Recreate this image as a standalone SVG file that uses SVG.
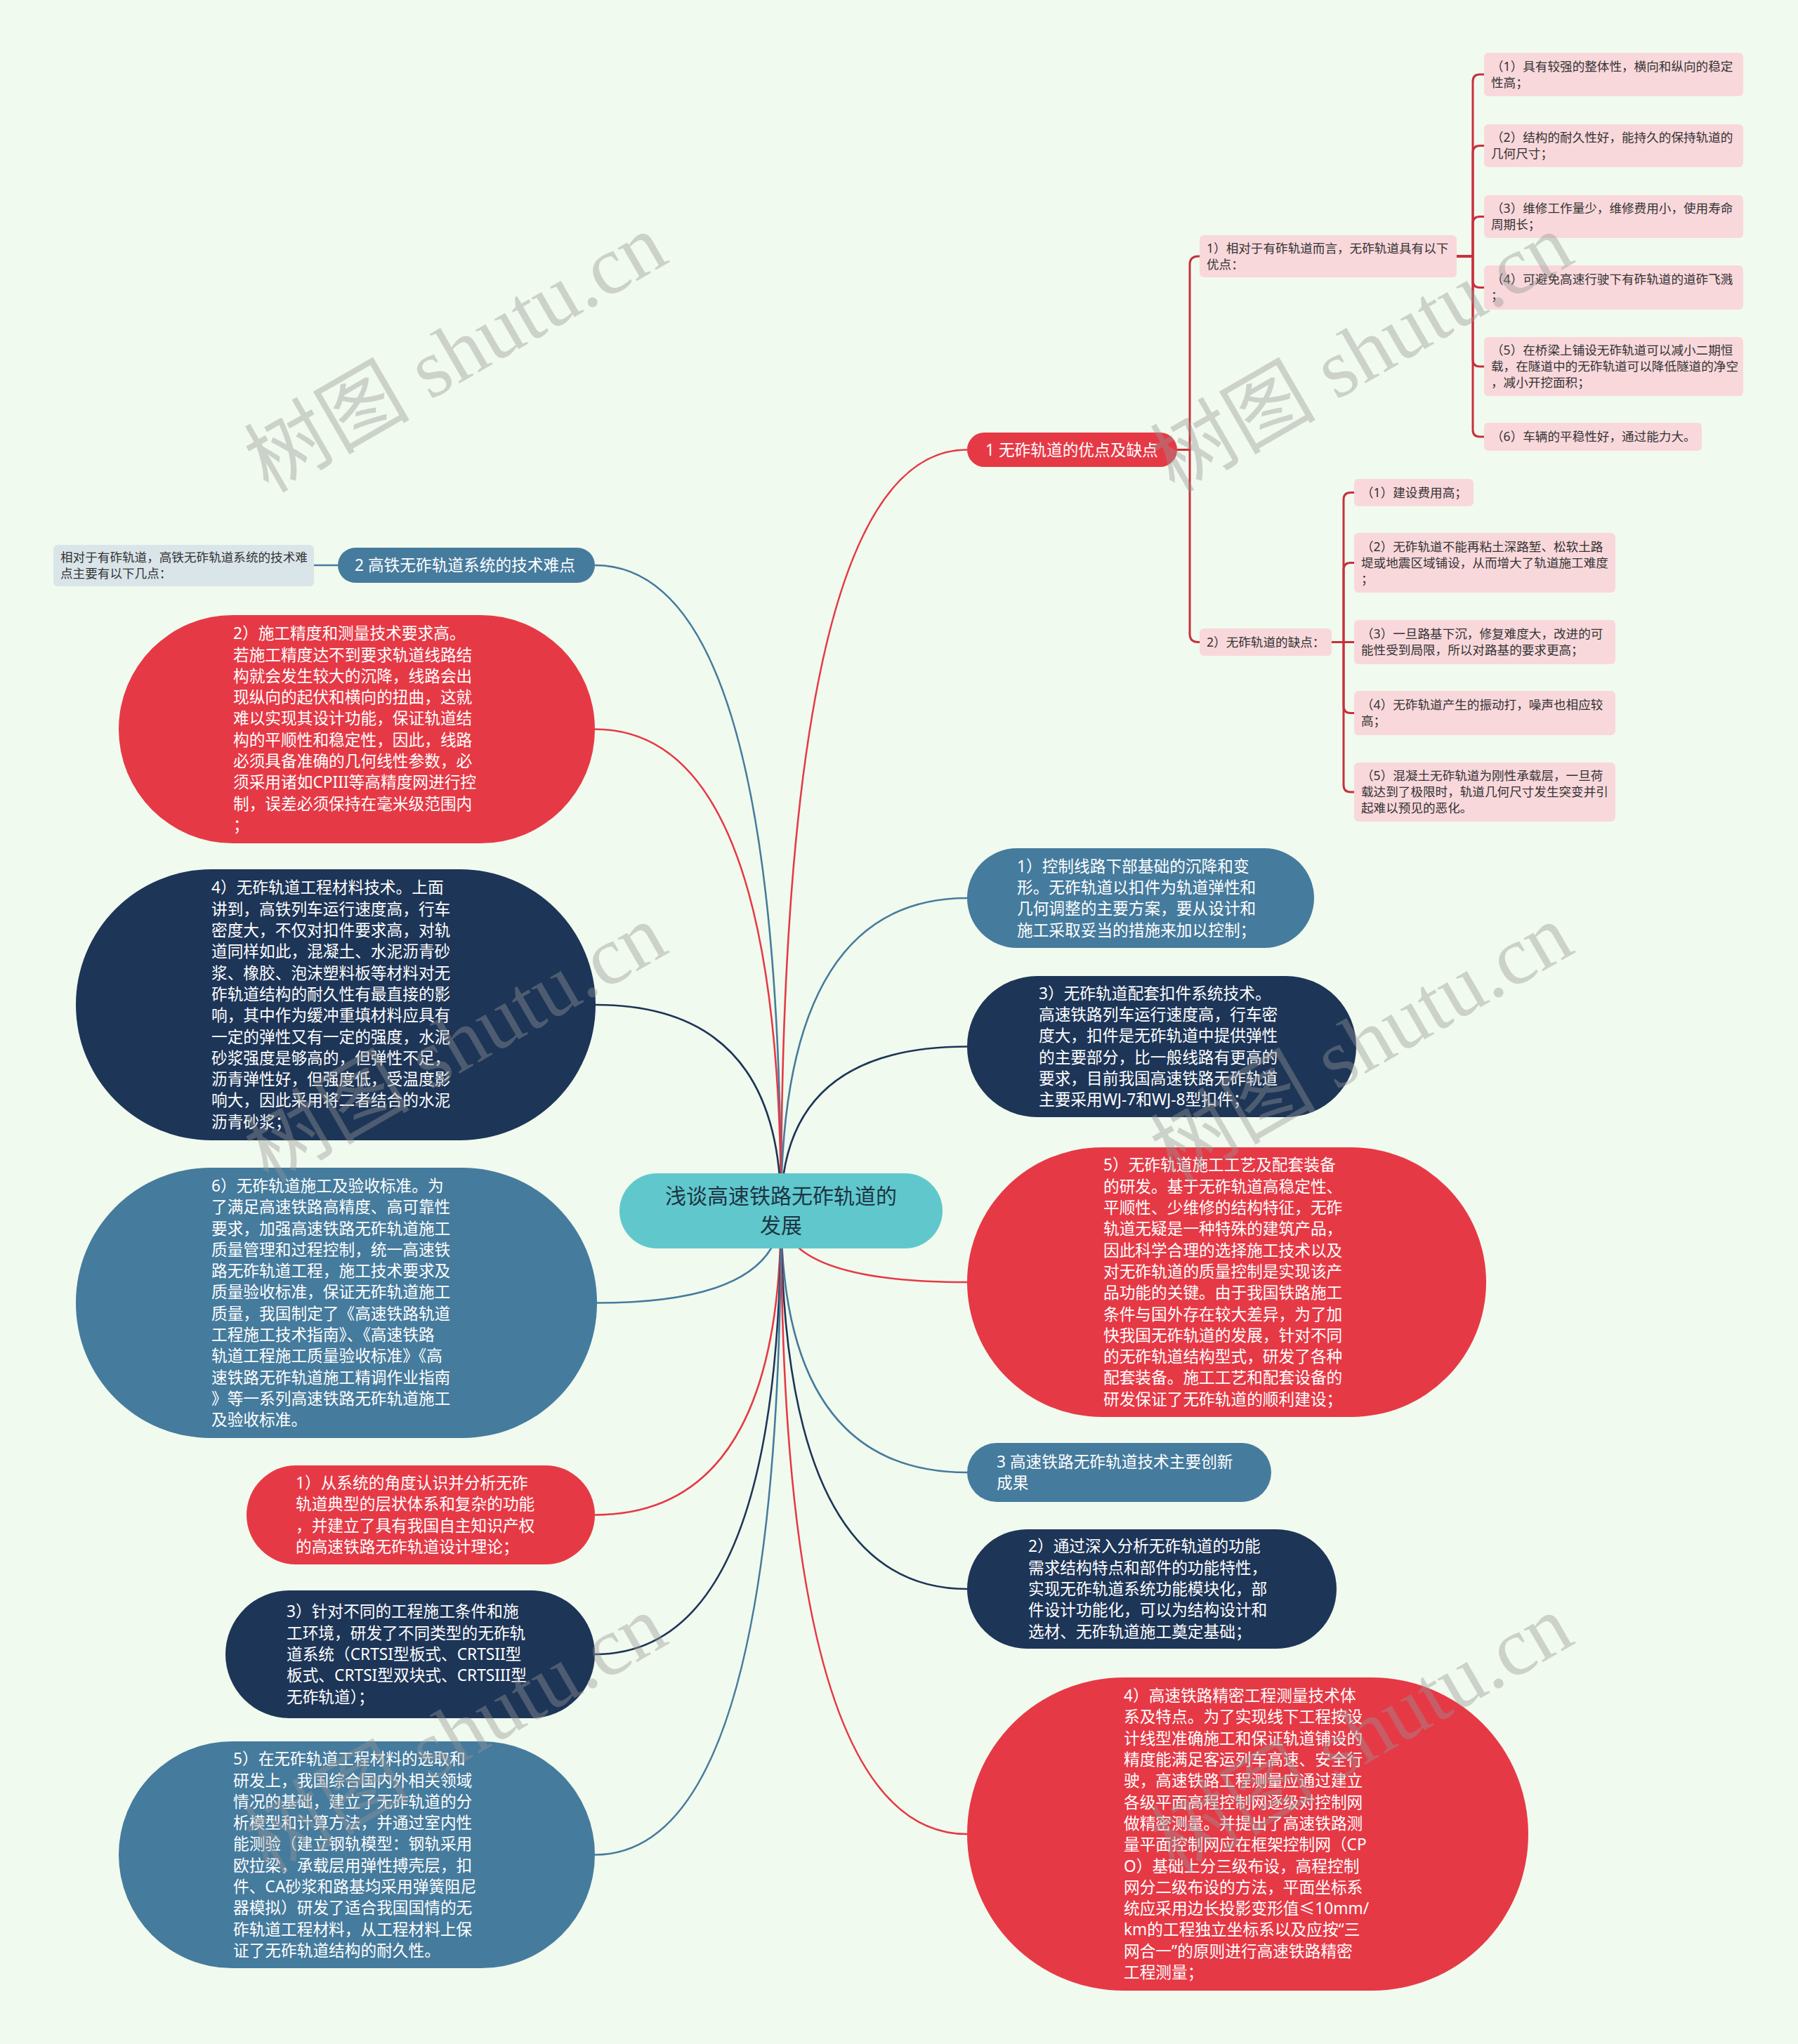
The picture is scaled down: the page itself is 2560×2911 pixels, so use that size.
<svg xmlns="http://www.w3.org/2000/svg" width="2560" height="2911" viewBox="0 0 2560 2911">
<style>
.t{font-family:"Noto Sans","Noto Sans CJK SC",sans-serif}
.big{font-size:22.7px;fill:#ffffff}
.sm{font-size:17.6px;fill:#333333}
.ctr{font-size:30px;fill:#1e3444}
.red{fill:#e63946}.blue{fill:#457b9d}.navy{fill:#1d3557}.pink{fill:#f9d8dc}.grey{fill:#dae5ea}
.c{fill:none;stroke-width:2.6}
.cr{stroke:#e63946}.cb{stroke:#457b9d}.cn{stroke:#1d3557}.cp{fill:none;stroke:#c8303c;stroke-width:3}
.wm{font-family:"Liberation Serif","Noto Sans CJK SC",serif;font-size:118px;fill:#969696;opacity:0.4}
</style>
<rect x="0" y="0" width="2560" height="2911" fill="#f1faee"/>

<g id="connectors">
  <path class="c cr" d="M1112 1724 Q1112 640.5 1377 640.5"/>
  <path class="c cb" d="M1112 1724 Q1112 1279 1377 1279"/>
  <path class="c cn" d="M1112 1724 Q1112 1490.5 1377 1490.5"/>
  <path class="c cr" d="M1112 1724 Q1112 1826 1377 1826"/>
  <path class="c cb" d="M1112 1724 Q1112 2097 1377 2097"/>
  <path class="c cn" d="M1112 1724 Q1112 2263 1377 2263"/>
  <path class="c cr" d="M1112 1724 Q1112 2612 1377 2612"/>
  <path class="c cb" d="M1112 1724 Q1112 805 847 805"/>
  <path class="c cr" d="M1112 1724 Q1112 1038.5 847 1038.5"/>
  <path class="c cn" d="M1112 1724 Q1112 1431 848 1431"/>
  <path class="c cb" d="M1112 1724 Q1112 1855.5 850 1855.5"/>
  <path class="c cr" d="M1112 1724 Q1112 2157.5 847 2157.5"/>
  <path class="c cn" d="M1112 1724 Q1112 2356 847 2356"/>
  <path class="c cb" d="M1112 1724 Q1112 2641.5 847 2641.5"/>
  <path class="c cb" d="M481 805 H447"/>
  <path class="cp" d="M1676 640.5 H1694 V377 Q1694 365 1706 365 H1708"/>
  <path class="cp" d="M1676 640.5 H1694 V902.5 Q1694 914.5 1706 914.5 H1708"/>
  <path class="cp" d="M2074 365 H2097 V116 Q2097 106 2107 106 H2113"/>
  <path class="cp" d="M2074 365 H2097 V217.5 Q2097 207.5 2107 207.5 H2113"/>
  <path class="cp" d="M2074 365 H2097 V318.5 Q2097 308.5 2107 308.5 H2113"/>
  <path class="cp" d="M2074 365 H2097 V399.5 Q2097 409.5 2107 409.5 H2113"/>
  <path class="cp" d="M2074 365 H2097 V512 Q2097 522 2107 522 H2113"/>
  <path class="cp" d="M2074 365 H2097 V612 Q2097 622 2107 622 H2113"/>
  <path class="cp" d="M1896 914.5 H1913 V711.5 Q1913 701.5 1923 701.5 H1928"/>
  <path class="cp" d="M1896 914.5 H1913 V811.5 Q1913 801.5 1923 801.5 H1928"/>
  <path class="cp" d="M1896 914.5 H1928"/>
  <path class="cp" d="M1896 914.5 H1913 V1005.5 Q1913 1015.5 1923 1015.5 H1928"/>
  <path class="cp" d="M1896 914.5 H1913 V1118 Q1913 1128 1923 1128 H1928"/>
</g>

<g id="center">
  <rect x="882" y="1671" width="460" height="107" rx="53.5" fill="#60c8cc"/>
  <text class="t ctr" text-anchor="middle"><tspan x="1112" y="1714">浅谈高速铁路无砟轨道的</tspan><tspan x="1112" y="1756">发展</tspan></text>
</g>

<g id="n-r1">
  <rect class="red" x="1377" y="616" width="299" height="49" rx="24.5"/>
  <text class="t big" x="1403" y="648.5">1 无砟轨道的优点及缺点</text>
</g>
<g id="n-r1-adv">
  <rect class="pink" x="1708" y="335" width="366" height="60" rx="6"/>
  <text class="t sm" y="359.8"><tspan x="1718">1）相对于有砟轨道而言，无砟轨道具有以下</tspan><tspan x="1718" dy="23">优点：</tspan></text>
</g>
<g id="n-adv1">
  <rect class="pink" x="2113" y="75" width="369" height="62" rx="6"/>
  <text class="t sm" y="100.8"><tspan x="2123">（1）具有较强的整体性，横向和纵向的稳定</tspan><tspan x="2123" dy="23">性高；</tspan></text>
</g>
<g id="n-adv2">
  <rect class="pink" x="2113" y="177" width="369" height="61" rx="6"/>
  <text class="t sm" y="202.3"><tspan x="2123">（2）结构的耐久性好，能持久的保持轨道的</tspan><tspan x="2123" dy="23">几何尺寸；</tspan></text>
</g>
<g id="n-adv3">
  <rect class="pink" x="2113" y="278" width="369" height="61" rx="6"/>
  <text class="t sm" y="303.3"><tspan x="2123">（3）维修工作量少，维修费用小，使用寿命</tspan><tspan x="2123" dy="23">周期长；</tspan></text>
</g>
<g id="n-adv4">
  <rect class="pink" x="2113" y="378" width="369" height="63" rx="6"/>
  <text class="t sm" y="404.3"><tspan x="2123">（4）可避免高速行驶下有砟轨道的道砟飞溅</tspan><tspan x="2123" dy="23">；</tspan></text>
</g>
<g id="n-adv5">
  <rect class="pink" x="2113" y="480" width="369" height="84" rx="6"/>
  <text class="t sm" y="505.3"><tspan x="2123">（5）在桥梁上铺设无砟轨道可以减小二期恒</tspan><tspan x="2123" dy="23" textLength="352" lengthAdjust="spacingAndGlyphs">载，在隧道中的无砟轨道可以降低隧道的净空</tspan><tspan x="2123" dy="23">，减小开挖面积；</tspan></text>
</g>
<g id="n-adv6">
  <rect class="pink" x="2113" y="602" width="310" height="40" rx="6"/>
  <text class="t sm" x="2123" y="628.3">（6）车辆的平稳性好，通过能力大。</text>
</g>
<g id="n-r1-dis">
  <rect class="pink" x="1708" y="895" width="188" height="39" rx="6"/>
  <text class="t sm" x="1718" y="920.8">2）无砟轨道的缺点：</text>
</g>
<g id="n-dis1">
  <rect class="pink" x="1928" y="682" width="170" height="39" rx="6"/>
  <text class="t sm" x="1938" y="707.8">（1）建设费用高；</text>
</g>
<g id="n-dis2">
  <rect class="pink" x="1928" y="759" width="372" height="85" rx="6"/>
  <text class="t sm" y="784.8"><tspan x="1938">（2）无砟轨道不能再粘土深路堑、松软土路</tspan><tspan x="1938" dy="23">堤或地震区域铺设，从而增大了轨道施工难度</tspan><tspan x="1938" dy="23">；</tspan></text>
</g>
<g id="n-dis3">
  <rect class="pink" x="1928" y="883" width="372" height="63" rx="6"/>
  <text class="t sm" y="909.3"><tspan x="1938">（3）一旦路基下沉，修复难度大，改进的可</tspan><tspan x="1938" dy="23">能性受到局限，所以对路基的要求更高；</tspan></text>
</g>
<g id="n-dis4">
  <rect class="pink" x="1928" y="984" width="372" height="63" rx="6"/>
  <text class="t sm" y="1010.3"><tspan x="1938">（4）无砟轨道产生的振动打，噪声也相应较</tspan><tspan x="1938" dy="23">高；</tspan></text>
</g>
<g id="n-dis5">
  <rect class="pink" x="1928" y="1086" width="372" height="84" rx="6"/>
  <text class="t sm" y="1111.3"><tspan x="1938">（5）混凝土无砟轨道为刚性承载层，一旦荷</tspan><tspan x="1938" dy="23">载达到了极限时，轨道几何尺寸发生突变并引</tspan><tspan x="1938" dy="23">起难以预见的恶化。</tspan></text>
</g>

<g id="n-ctl">
  <rect class="blue" x="1377" y="1208" width="494" height="142" rx="71"/>
  <text class="t big" y="1241.6"><tspan x="1448">1）控制线路下部基础的沉降和变</tspan><tspan x="1448" dy="30.3">形。无砟轨道以扣件为轨道弹性和</tspan><tspan x="1448" dy="30.3">几何调整的主要方案，要从设计和</tspan><tspan x="1448" dy="30.3">施工采取妥当的措施来加以控制；</tspan></text>
</g>
<g id="n-fast">
  <rect class="navy" x="1377" y="1390" width="554" height="201" rx="100"/>
  <text class="t big" y="1422.8"><tspan x="1479">3）无砟轨道配套扣件系统技术。</tspan><tspan x="1479" dy="30.3">高速铁路列车运行速度高，行车密</tspan><tspan x="1479" dy="30.3">度大，扣件是无砟轨道中提供弹性</tspan><tspan x="1479" dy="30.3">的主要部分，比一般线路有更高的</tspan><tspan x="1479" dy="30.3">要求，目前我国高速铁路无砟轨道</tspan><tspan x="1479" dy="30.3">主要采用WJ-7和WJ-8型扣件；</tspan></text>
</g>
<g id="n-craft">
  <rect class="red" x="1377" y="1634" width="739" height="384" rx="192"/>
  <text class="t big" y="1667.4"><tspan x="1571">5）无砟轨道施工工艺及配套装备</tspan><tspan x="1571" dy="30.3">的研发。基于无砟轨道高稳定性、</tspan><tspan x="1571" dy="30.3">平顺性、少维修的结构特征，无砟</tspan><tspan x="1571" dy="30.3">轨道无疑是一种特殊的建筑产品，</tspan><tspan x="1571" dy="30.3">因此科学合理的选择施工技术以及</tspan><tspan x="1571" dy="30.3">对无砟轨道的质量控制是实现该产</tspan><tspan x="1571" dy="30.3">品功能的关键。由于我国铁路施工</tspan><tspan x="1571" dy="30.3">条件与国外存在较大差异，为了加</tspan><tspan x="1571" dy="30.3">快我国无砟轨道的发展，针对不同</tspan><tspan x="1571" dy="30.3">的无砟轨道结构型式，研发了各种</tspan><tspan x="1571" dy="30.3">配套装备。施工工艺和配套设备的</tspan><tspan x="1571" dy="30.3">研发保证了无砟轨道的顺利建设；</tspan></text>
</g>
<g id="n-r3">
  <rect class="blue" x="1377" y="2055" width="433" height="84" rx="42"/>
  <text class="t big" y="2089.9"><tspan x="1419">3 高速铁路无砟轨道技术主要创新</tspan><tspan x="1419" dy="30.3">成果</tspan></text>
</g>
<g id="n-func">
  <rect class="navy" x="1377" y="2178" width="526" height="170" rx="85"/>
  <text class="t big" y="2210.4"><tspan x="1464">2）通过深入分析无砟轨道的功能</tspan><tspan x="1464" dy="30.3">需求结构特点和部件的功能特性，</tspan><tspan x="1464" dy="30.3">实现无砟轨道系统功能模块化，部</tspan><tspan x="1464" dy="30.3">件设计功能化，可以为结构设计和</tspan><tspan x="1464" dy="30.3">选材、无砟轨道施工奠定基础；</tspan></text>
</g>
<g id="n-survey">
  <rect class="red" x="1377" y="2389" width="799" height="446" rx="223"/>
  <text class="t big" y="2423.1"><tspan x="1600">4）高速铁路精密工程测量技术体</tspan><tspan x="1600" dy="30.3">系及特点。为了实现线下工程按设</tspan><tspan x="1600" dy="30.3">计线型准确施工和保证轨道铺设的</tspan><tspan x="1600" dy="30.3">精度能满足客运列车高速、安全行</tspan><tspan x="1600" dy="30.3">驶，高速铁路工程测量应通过建立</tspan><tspan x="1600" dy="30.3">各级平面高程控制网逐级对控制网</tspan><tspan x="1600" dy="30.3">做精密测量。并提出了高速铁路测</tspan><tspan x="1600" dy="30.3">量平面控制网应在框架控制网（CP</tspan><tspan x="1600" dy="30.3">O）基础上分三级布设，高程控制</tspan><tspan x="1600" dy="30.3">网分二级布设的方法，平面坐标系</tspan><tspan x="1600" dy="30.3">统应采用边长投影变形值≤10mm/</tspan><tspan x="1600" dy="30.3">km的工程独立坐标系以及应按“三</tspan><tspan x="1600" dy="30.3">网合一”的原则进行高速铁路精密</tspan><tspan x="1600" dy="30.3">工程测量；</tspan></text>
</g>

<g id="n-l2">
  <rect class="blue" x="481" y="780" width="366" height="50" rx="25"/>
  <text class="t big" x="505" y="813">2 高铁无砟轨道系统的技术难点</text>
</g>
<g id="n-l2-note">
  <rect class="grey" x="76" y="776" width="371" height="59" rx="6"/>
  <text class="t sm" y="800.3"><tspan x="86">相对于有砟轨道，高铁无砟轨道系统的技术难</tspan><tspan x="86" dy="23">点主要有以下几点：</tspan></text>
</g>
<g id="n-precision">
  <rect class="red" x="169" y="876" width="678" height="325" rx="162.5"/>
  <text class="t big" y="910.2"><tspan x="332">2）施工精度和测量技术要求高。</tspan><tspan x="332" dy="30.3">若施工精度达不到要求轨道线路结</tspan><tspan x="332" dy="30.3">构就会发生较大的沉降，线路会出</tspan><tspan x="332" dy="30.3">现纵向的起伏和横向的扭曲，这就</tspan><tspan x="332" dy="30.3">难以实现其设计功能，保证轨道结</tspan><tspan x="332" dy="30.3">构的平顺性和稳定性，因此，线路</tspan><tspan x="332" dy="30.3">必须具备准确的几何线性参数，必</tspan><tspan x="332" dy="30.3">须采用诸如CPIII等高精度网进行控</tspan><tspan x="332" dy="30.3">制，误差必须保持在毫米级范围内</tspan><tspan x="332" dy="30.3">；</tspan></text>
</g>
<g id="n-material">
  <rect class="navy" x="108" y="1238" width="740" height="386" rx="193"/>
  <text class="t big" y="1272.4"><tspan x="301">4）无砟轨道工程材料技术。上面</tspan><tspan x="301" dy="30.3">讲到，高铁列车运行速度高，行车</tspan><tspan x="301" dy="30.3">密度大，不仅对扣件要求高，对轨</tspan><tspan x="301" dy="30.3">道同样如此，混凝土、水泥沥青砂</tspan><tspan x="301" dy="30.3">浆、橡胶、泡沫塑料板等材料对无</tspan><tspan x="301" dy="30.3">砟轨道结构的耐久性有最直接的影</tspan><tspan x="301" dy="30.3">响，其中作为缓冲重填材料应具有</tspan><tspan x="301" dy="30.3">一定的弹性又有一定的强度，水泥</tspan><tspan x="301" dy="30.3">砂浆强度是够高的，但弹性不足，</tspan><tspan x="301" dy="30.3">沥青弹性好，但强度低，受温度影</tspan><tspan x="301" dy="30.3">响大，因此采用将二者结合的水泥</tspan><tspan x="301" dy="30.3">沥青砂浆；</tspan></text>
</g>
<g id="n-standard">
  <rect class="blue" x="108" y="1663" width="742" height="385" rx="192"/>
  <text class="t big" y="1696.9"><tspan x="301">6）无砟轨道施工及验收标准。为</tspan><tspan x="301" dy="30.3">了满足高速铁路高精度、高可靠性</tspan><tspan x="301" dy="30.3">要求，加强高速铁路无砟轨道施工</tspan><tspan x="301" dy="30.3">质量管理和过程控制，统一高速铁</tspan><tspan x="301" dy="30.3">路无砟轨道工程，施工技术要求及</tspan><tspan x="301" dy="30.3">质量验收标准，保证无砟轨道施工</tspan><tspan x="301" dy="30.3">质量，我国制定了《高速铁路轨道</tspan><tspan x="301" dy="30.3">工程施工技术指南》、《高速铁路</tspan><tspan x="301" dy="30.3">轨道工程施工质量验收标准》《高</tspan><tspan x="301" dy="30.3">速铁路无砟轨道施工精调作业指南</tspan><tspan x="301" dy="30.3">》等一系列高速铁路无砟轨道施工</tspan><tspan x="301" dy="30.3">及验收标准。</tspan></text>
</g>
<g id="n-system">
  <rect class="red" x="351" y="2087" width="496" height="141" rx="70.5"/>
  <text class="t big" y="2120.1"><tspan x="421">1）从系统的角度认识并分析无砟</tspan><tspan x="421" dy="30.3">轨道典型的层状体系和复杂的功能</tspan><tspan x="421" dy="30.3">，并建立了具有我国自主知识产权</tspan><tspan x="421" dy="30.3">的高速铁路无砟轨道设计理论；</tspan></text>
</g>
<g id="n-types">
  <rect class="navy" x="321" y="2265" width="526" height="182" rx="91"/>
  <text class="t big" y="2303.4"><tspan x="408">3）针对不同的工程施工条件和施</tspan><tspan x="408" dy="30.3">工环境，研发了不同类型的无砟轨</tspan><tspan x="408" dy="30.3">道系统（CRTSI型板式、CRTSII型</tspan><tspan x="408" dy="30.3">板式、CRTSI型双块式、CRTSIII型</tspan><tspan x="408" dy="30.3">无砟轨道）；</tspan></text>
</g>
<g id="n-research">
  <rect class="blue" x="169" y="2480" width="678" height="323" rx="161.5"/>
  <text class="t big" y="2513.2"><tspan x="332">5）在无砟轨道工程材料的选取和</tspan><tspan x="332" dy="30.3">研发上，我国综合国内外相关领域</tspan><tspan x="332" dy="30.3">情况的基础，建立了无砟轨道的分</tspan><tspan x="332" dy="30.3">析模型和计算方法，并通过室内性</tspan><tspan x="332" dy="30.3">能测验（建立钢轨模型：钢轨采用</tspan><tspan x="332" dy="30.3">欧拉梁，承载层用弹性搏壳层，扣</tspan><tspan x="332" dy="30.3">件、CA砂浆和路基均采用弹簧阻尼</tspan><tspan x="332" dy="30.3">器模拟）研发了适合我国国情的无</tspan><tspan x="332" dy="30.3">砟轨道工程材料，从工程材料上保</tspan><tspan x="332" dy="30.3">证了无砟轨道结构的耐久性。</tspan></text>
</g>

<g id="watermark">
  <text class="wm" x="382" y="703" transform="rotate(-30 382 703)">树图 shutu.cn</text>
  <text class="wm" x="1672" y="703" transform="rotate(-30 1672 703)">树图 shutu.cn</text>
  <text class="wm" x="382" y="1686" transform="rotate(-30 382 1686)">树图 shutu.cn</text>
  <text class="wm" x="1672" y="1686" transform="rotate(-30 1672 1686)">树图 shutu.cn</text>
  <text class="wm" x="382" y="2670" transform="rotate(-30 382 2670)">树图 shutu.cn</text>
  <text class="wm" x="1672" y="2670" transform="rotate(-30 1672 2670)">树图 shutu.cn</text>
</g>
</svg>
